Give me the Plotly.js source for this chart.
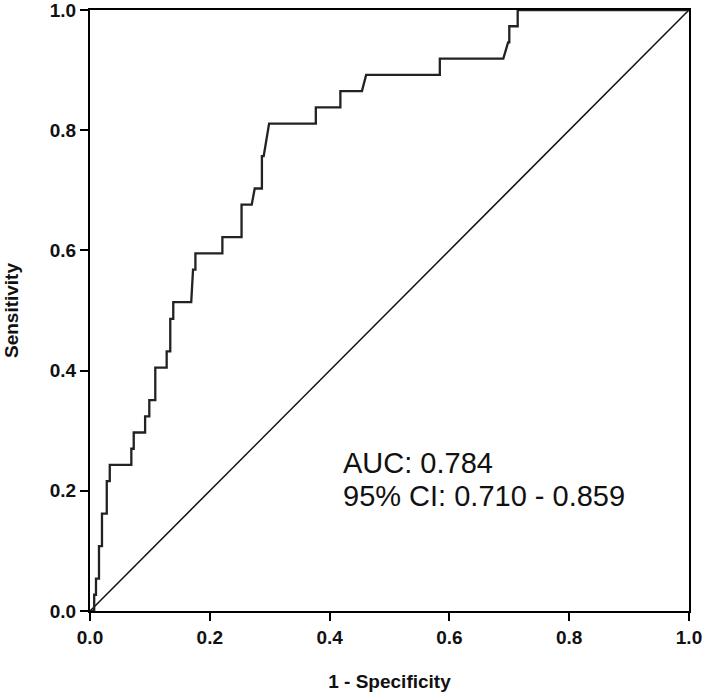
<!DOCTYPE html>
<html>
<head>
<meta charset="utf-8">
<script src="https://cdn.plot.ly/plotly-3.0.1.min.js"></script>
<style>html,body{margin:0;padding:0;background:#fff;}#chart{width:709px;height:696px;}</style>
</head>
<body>
<div id="chart"></div>
<script>
// ROC curve vertices (1 - specificity, sensitivity)
const rocFpr = [0, 0.007, 0.007, 0.010, 0.010, 0.015, 0.015, 0.020, 0.020, 0.028, 0.028, 0.033, 0.033,
  0.069, 0.069, 0.073, 0.073, 0.092, 0.092, 0.099, 0.099, 0.109, 0.109, 0.128, 0.128, 0.134, 0.134,
  0.139, 0.139, 0.169, 0.172, 0.176, 0.176, 0.221, 0.221, 0.253, 0.253, 0.270, 0.275, 0.287, 0.287,
  0.290, 0.299, 0.377, 0.377, 0.418, 0.418, 0.454, 0.461, 0.584, 0.584, 0.690, 0.698, 0.700, 0.700,
  0.714, 0.714, 1.0];
const rocTpr = [0, 0, 0.027, 0.027, 0.054, 0.054, 0.108, 0.108, 0.162, 0.162, 0.216, 0.216, 0.243,
  0.243, 0.270, 0.270, 0.297, 0.297, 0.324, 0.324, 0.351, 0.351, 0.405, 0.405, 0.432, 0.432, 0.486,
  0.486, 0.514, 0.514, 0.568, 0.568, 0.595, 0.595, 0.622, 0.622, 0.676, 0.676, 0.703, 0.703, 0.757,
  0.757, 0.811, 0.811, 0.838, 0.838, 0.865, 0.865, 0.892, 0.892, 0.919, 0.919, 0.946, 0.946, 0.973,
  0.973, 1.0, 1.0];
const refX = [0, 1];
const refY = [0, 1];
const tickVals = [0, 0.2, 0.4, 0.6, 0.8, 1.0];
const tickText = ['0.0', '0.2', '0.4', '0.6', '0.8', '1.0'];
const aucLabel = 'AUC: 0.784';
const ciLabel = '95% CI: 0.710 - 0.859';

const traces = [
  {x: refX, y: refY, mode: 'lines', line: {color: '#111', width: 1.5}, hoverinfo: 'skip'},
  {x: rocFpr, y: rocTpr, mode: 'lines', line: {color: '#222', width: 2.3}}
];

const fam = 'Liberation Sans, Arial, sans-serif';
const axisCommon = {
  range: [0, 1], tickvals: tickVals, ticktext: tickText,
  showgrid: false, zeroline: false, showline: true, linecolor: '#000', linewidth: 2,
  mirror: true, ticks: 'outside', ticklen: 8, tickwidth: 2, tickcolor: '#000',
  tickfont: {family: fam, size: 19, color: '#111', weight: 'bold'},
  ticklabeloverflow: 'allow',
  automargin: false
};

const annFont = {family: fam, size: 29, color: '#111'};
const layout = {
  width: 709, height: 696,
  margin: {l: 90, r: 20, t: 10, b: 85},
  paper_bgcolor: '#fff', plot_bgcolor: '#fff',
  showlegend: false,
  xaxis: Object.assign({}, axisCommon, {
    title: {text: '<b>1 - Specificity</b>', font: {family: fam, size: 19, color: '#111'}, standoff: 28}
  }),
  yaxis: Object.assign({}, axisCommon, {
    title: {text: '<b>Sensitivity</b>', font: {family: fam, size: 19, color: '#111'}, standoff: 26}
  }),
  annotations: [
    {x: 0.419, y: 0.247, xref: 'x', yref: 'y', text: aucLabel, showarrow: false, xanchor: 'left', yanchor: 'middle', font: annFont},
    {x: 0.419, y: 0.192, xref: 'x', yref: 'y', text: ciLabel, showarrow: false, xanchor: 'left', yanchor: 'middle', font: annFont}
  ]
};

Plotly.newPlot('chart', traces, layout, {displayModeBar: false, staticPlot: true});
</script>
</body>
</html>
